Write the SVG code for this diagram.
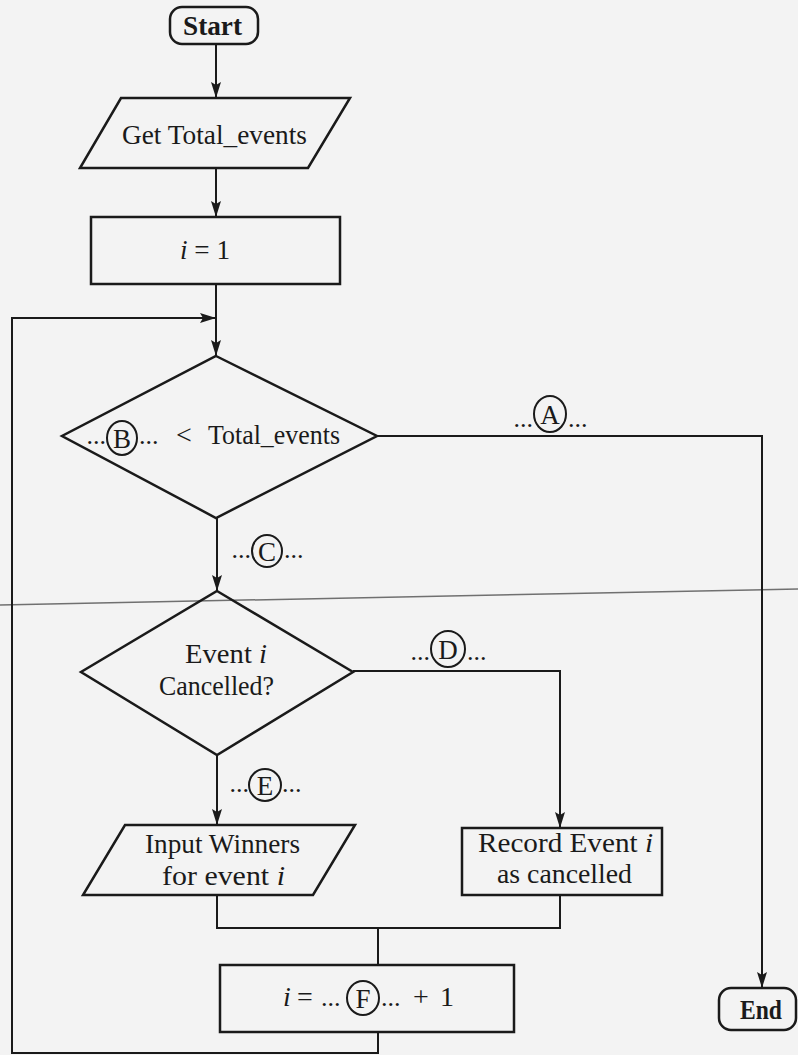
<svg xmlns="http://www.w3.org/2000/svg" width="798" height="1055" viewBox="0 0 798 1055">
<defs>
<marker id="arr" markerUnits="userSpaceOnUse" markerWidth="16" markerHeight="10" refX="16" refY="5" orient="auto">
<path d="M0,0 L16,5 L0,10 L3,5 z" fill="#1a1a1a"/>
</marker>
</defs>
<style>
.shape{fill:none;stroke:#1a1a1a;stroke-width:2.5}
.conn{fill:none;stroke:#1a1a1a;stroke-width:2}
.t{font-family:"Liberation Serif","Times New Roman",serif;font-size:28px;fill:#1a1a1a}
.d{font-family:"Liberation Serif","Times New Roman",serif;font-size:26px;fill:#1a1a1a}
.b{font-weight:bold;font-size:27px}
.it{font-style:italic}
.circ{fill:none;stroke:#1a1a1a;stroke-width:2}
.lt{font-family:"Liberation Serif","Times New Roman",serif;font-size:27px;fill:#1a1a1a;text-anchor:middle}
</style>
<rect x="0" y="0" width="798" height="1055" fill="#f3f3f3"/>
<line x1="0" y1="605" x2="798" y2="589" stroke="#707070" stroke-width="1.5"/>

<g id="connectors">
<path class="conn" d="M216,44 V98" marker-end="url(#arr)"/>
<path class="conn" d="M216,168 V217" marker-end="url(#arr)"/>
<path class="conn" d="M216,284 V356" marker-end="url(#arr)"/>
<path class="conn" d="M378,1032 V1053 H12 V318 H216" marker-end="url(#arr)"/>
<path class="conn" d="M377,436 H762 V988" marker-end="url(#arr)"/>
<path class="conn" d="M217,518 V591" marker-end="url(#arr)"/>
<path class="conn" d="M353,671 H560 V828" marker-end="url(#arr)"/>
<path class="conn" d="M217,755 V825" marker-end="url(#arr)"/>
<path class="conn" d="M217,895 V928 H560 V895"/>
<path class="conn" d="M378,928 V965"/>
<g id="label-A">
<text class="d" x="533" y="427" text-anchor="end">...</text>
<ellipse class="circ" cx="550" cy="414" rx="16" ry="18"/>
<text class="lt" x="550" y="424">A</text>
<text class="d" x="568" y="427">...</text>
</g>
<g id="label-C">
<text class="d" x="251" y="558" text-anchor="end">...</text>
<ellipse class="circ" cx="267" cy="551" rx="15" ry="16"/>
<text class="lt" x="267" y="561">C</text>
<text class="d" x="284" y="558">...</text>
</g>
<g id="label-D">
<text class="d" x="430" y="660" text-anchor="end">...</text>
<ellipse class="circ" cx="448" cy="649" rx="17" ry="18"/>
<text class="lt" x="448" y="659">D</text>
<text class="d" x="467" y="660">...</text>
</g>
<g id="label-E">
<text class="d" x="249" y="792" text-anchor="end">...</text>
<ellipse class="circ" cx="265" cy="785" rx="16" ry="16"/>
<text class="lt" x="265" y="795">E</text>
<text class="d" x="282" y="792">...</text>
</g>
</g>

<g id="start">
<rect class="shape" x="170" y="7" width="88" height="37" rx="12"/>
<text class="t b" x="183" y="35" textLength="59" lengthAdjust="spacingAndGlyphs">Start</text>
</g>
<g id="get-total">
<polygon class="shape" points="121,98 350,98 308,168 80,168"/>
<text class="t" x="122" y="144" textLength="185" lengthAdjust="spacingAndGlyphs">Get  Total_events</text>
</g>
<g id="init">
<rect class="shape" x="91" y="217" width="249" height="67"/>
<text class="t" x="180" y="259" textLength="50" lengthAdjust="spacingAndGlyphs"><tspan class="it">i</tspan> = 1</text>
</g>
<g id="cond-loop">
<polygon class="shape" points="216,356 377,436 216,518 62,436"/>
<text class="d" x="106" y="444" text-anchor="end">...</text>
<ellipse class="circ" cx="122" cy="438" rx="15" ry="17"/>
<text class="lt" x="122" y="448">B</text>
<text class="d" x="139" y="444">...</text>
<text class="t" x="176" y="444">&lt;</text>
<text class="t" x="208" y="444" textLength="132" lengthAdjust="spacingAndGlyphs">Total_events</text>
</g>
<g id="cond-cancelled">
<polygon class="shape" points="217,591 353,672 217,755 81,672"/>
<text class="t" x="185" y="663" textLength="82" lengthAdjust="spacingAndGlyphs">Event <tspan class="it">i</tspan></text>
<text class="t" x="159" y="695" textLength="115" lengthAdjust="spacingAndGlyphs">Cancelled?</text>
</g>
<g id="input-winners">
<polygon class="shape" points="125,825 355,825 313,895 83,895"/>
<text class="t" x="145" y="853" textLength="155" lengthAdjust="spacingAndGlyphs">Input  Winners</text>
<text class="t" x="162" y="885" textLength="123" lengthAdjust="spacingAndGlyphs">for  event  <tspan class="it">i</tspan></text>
</g>
<g id="record-cancelled">
<rect class="shape" x="462" y="828" width="200" height="67"/>
<text class="t" x="478" y="852" textLength="175" lengthAdjust="spacingAndGlyphs">Record  Event  <tspan class="it">i</tspan></text>
<text class="t" x="497" y="883" textLength="135" lengthAdjust="spacingAndGlyphs">as  cancelled</text>
</g>
<g id="increment">
<rect class="shape" x="220" y="965" width="294" height="67"/>
<text class="t it" x="283" y="1006">i</text>
<text class="t" x="297" y="1006">=</text>
<text class="d" x="321" y="1006">...</text>
<ellipse class="circ" cx="363" cy="998" rx="16" ry="17"/>
<text class="lt" x="363" y="1008">F</text>
<text class="d" x="381" y="1006">...</text>
<text class="t" x="413" y="1006">+</text>
<text class="t" x="440" y="1006">1</text>
</g>
<g id="end">
<rect class="shape" x="719" y="988" width="77" height="42" rx="12"/>
<text class="t b" x="740" y="1019" textLength="42" lengthAdjust="spacingAndGlyphs">End</text>
</g>
</svg>
